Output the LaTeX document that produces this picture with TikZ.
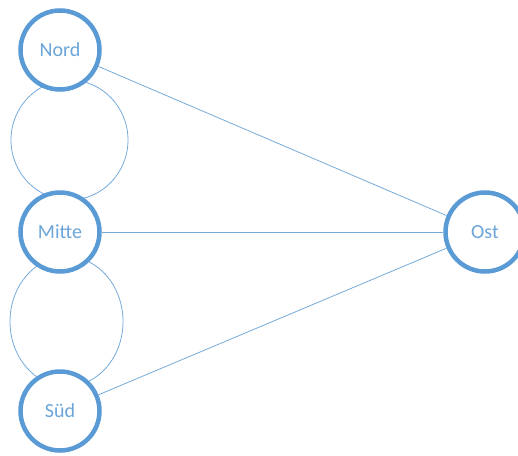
\documentclass[tikz,border=0pt]{standalone}
\usepackage{fontspec}
\setmainfont{Carlito}
\usetikzlibrary{calc,backgrounds}
\definecolor{ringblue}{HTML}{5B9BD5}

\tikzset{
  place/.style={circle, draw=ringblue, line width=4.5pt, fill=white,
    minimum size=79pt, inner sep=0pt, text=ringblue!90!white,
    font=\fontsize{20}{24}\selectfont},
  link/.style={draw=ringblue!85!white, line width=0.8pt}
}

\begin{document}
\begin{tikzpicture}[x=1pt,y=-1pt]
  \useasboundingbox (0,0) rectangle (518,455);
  % stations
  \node[place] (nord)  at (60,50)  {Nord};
  \node[place] (mitte) at (60,232) {Mitte};
  \node[place] (sued)  at (60,411) {Süd};
  \node[place] (ost)   at (485,232) {Ost};
  \begin{scope}[on background layer]
    % loops between the left stations
    \draw[link] ($(nord)!0.5!(mitte)+(9.5,-1)$) ellipse (58.5pt and 60pt);
    \draw[link] ($(mitte)!0.5!(sued)+(6.5,0)$) ellipse (56.5pt and 65pt);
  \end{scope}
  \draw[link] (nord) -- (ost);
  \draw[link] (mitte) -- (ost);
  \draw[link] (sued) -- (ost);
\end{tikzpicture}
\end{document}
